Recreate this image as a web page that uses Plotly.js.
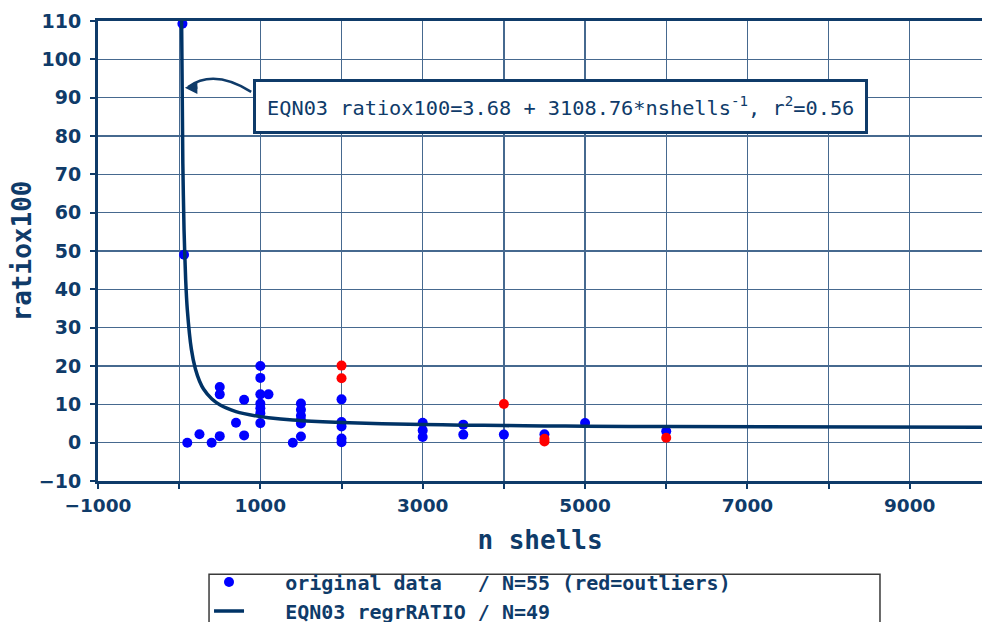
<!DOCTYPE html>
<html>
<head>
<meta charset="utf-8">
<script src="https://cdn.plot.ly/plotly-3.0.1.min.js"></script>
<style>html,body{margin:0;padding:0;background:#fff;}#chart{width:982px;height:622px;}</style>
</head>
<body>
<div id="chart"></div>
<script>
// original data (blue = kept points)
const dataX = [40, 60, 100, 250, 400, 500, 500, 500, 700, 800, 800,
  1000, 1000, 1000, 1000, 1000, 1000, 1000, 1100, 1400,
  1500, 1500, 1500, 1500, 1500, 1500,
  2000, 2000, 2000, 2000, 2000,
  3000, 3000, 3000, 3500, 3500, 4000, 4500, 5000, 6000];
const dataY = [109.3, 49, 0, 2.2, 0, 1.7, 14.5, 12.6, 5.2, 11.2, 1.9,
  20.0, 16.9, 12.6, 10.2, 9.0, 7.7, 5.1, 12.6, 0,
  10.2, 8.6, 7.0, 5.9, 5.0, 1.6,
  11.3, 5.4, 4.2, 1.1, 0.1,
  5.2, 3.2, 1.5, 4.7, 2.1, 2.1, 2.2, 5.1, 3.0];
// outliers (red)
const outX = [2000, 2000, 4000, 4500, 4500, 6000];
const outY = [20.1, 16.8, 10.1, 1.0, 0.3, 1.3];
// regression curve
const curveX = [28, 45, 60, 80, 100, 150, 200, 250, 300, 400, 500, 700, 800, 1000, 1100, 1400, 1500, 2000, 3000, 3500, 4000, 4500, 5000, 6000, 10000];
const curveY = [114.7, 72.8, 55.5, 42.5, 34.8, 24.4, 19.2, 16.1, 14.0, 11.45, 9.9, 8.12, 7.57, 6.79, 6.51, 5.9, 5.75, 5.23, 4.72, 4.57, 4.46, 4.37, 4.30, 4.20, 3.99];

const xTickVals = [-1000, 0, 1000, 2000, 3000, 4000, 5000, 6000, 7000, 8000, 9000];
const xTickText = ['\u22121000', '', '1000', '', '3000', '', '5000', '', '7000', '', '9000'];
const yTickVals = [-10, 0, 10, 20, 30, 40, 50, 60, 70, 80, 90, 100, 110];
const yTickText = ['\u221210', '0', '10', '20', '30', '40', '50', '60', '70', '80', '90', '100', '110'];

const navy = '#0f3b69';
const grid = '#46698f';
const nb = '\u00a0';

const traces = [
  {x: dataX, y: dataY, type: 'scatter', mode: 'markers',
   marker: {color: '#0000ff', size: 10},
   name: nb+nb+nb+'original data'+nb+nb+nb+'/ N=55 (red=outliers)'},
  {x: outX, y: outY, type: 'scatter', mode: 'markers',
   marker: {color: '#ff0000', size: 10}, showlegend: false, name: 'outliers'},
  {x: curveX, y: curveY, type: 'scatter', mode: 'lines',
   line: {color: '#003366', width: 3.5, shape: 'spline', smoothing: 0.6},
   name: nb+nb+nb+'EQN03 regrRATIO / N=49'}
];

const layout = {
  width: 982, height: 622,
  margin: {l: 98, r: 0, t: 21, b: 141, autoexpand: false},
  paper_bgcolor: '#fff', plot_bgcolor: '#fff',
  font: {family: 'DejaVu Sans', color: navy},
  showlegend: true,
  xaxis: {
    range: [-1000, 9890], tickvals: xTickVals, ticktext: xTickText,
    showgrid: true, gridcolor: grid, gridwidth: 1.3, zeroline: false,
    showline: true, linecolor: navy, linewidth: 3, mirror: true,
    ticks: 'outside', ticklen: 5, tickwidth: 2, tickcolor: navy,
    ticklabelstandoff: 1, automargin: false,
    tickfont: {family: 'DejaVu Sans', size: 18.5, weight: 'bold', color: navy},
    title: {text: 'n shells', standoff: 16,
            font: {family: 'DejaVu Sans Mono', size: 26, weight: 'bold', color: navy}}
  },
  yaxis: {
    range: [-10, 110], tickvals: yTickVals, ticktext: yTickText,
    showgrid: true, gridcolor: grid, gridwidth: 1.3, zeroline: false,
    showline: true, linecolor: navy, linewidth: 3, mirror: false,
    ticks: 'outside', ticklen: 5, tickwidth: 2, tickcolor: navy,
    ticklabelstandoff: 5, automargin: false,
    tickfont: {family: 'DejaVu Sans', size: 19, weight: 'bold', color: navy},
    title: {text: 'ratiox100', standoff: 0,
            font: {family: 'DejaVu Sans Mono', size: 26, weight: 'bold', color: navy}}
  },
  legend: {
    x: 0.1256, xanchor: 'left', y: -0.177, yanchor: 'top',
    bgcolor: 'rgba(0,0,0,0)', borderwidth: 0,
    tracegroupgap: 0,
    font: {family: 'DejaVu Sans Mono', size: 20, weight: 'bold', color: navy}
  },
  shapes: [
    {type: 'rect', xref: 'paper', yref: 'paper',
     x0: 0.1256, x1: 0.8846, y0: -0.2025, y1: -0.45,
     line: {color: '#3a3a3a', width: 1.5}, fillcolor: 'rgba(0,0,0,0)'},
    {type: 'path', xref: 'x', yref: 'y',
     path: 'M 887,91.5 Q 431,97.6 110,92.8',
     line: {color: navy, width: 2.5}}
  ],
  annotations: [
    {xref: 'paper', yref: 'paper', x: 0.1753, y: 0.874,
     xanchor: 'left', yanchor: 'top', showarrow: false, align: 'left',
     text: 'EQN03 ratiox100=3.68 + 3108.76*nshells<sup>-1</sup>, r<sup>2</sup>=0.56',
     font: {family: 'DejaVu Sans Mono', size: 20.3, color: navy},
     bgcolor: '#fff', bordercolor: navy, borderwidth: 3, borderpad: 11},
    {xref: 'x', yref: 'y', x: 70, y: 92.6, text: '', showarrow: true,
     ax: 14, ay: 0, arrowhead: 2, arrowsize: 1, arrowwidth: 2.5, arrowcolor: navy}
  ]
};

Plotly.newPlot('chart', traces, layout, {displayModeBar: false, staticPlot: true});
</script>
</body>
</html>
